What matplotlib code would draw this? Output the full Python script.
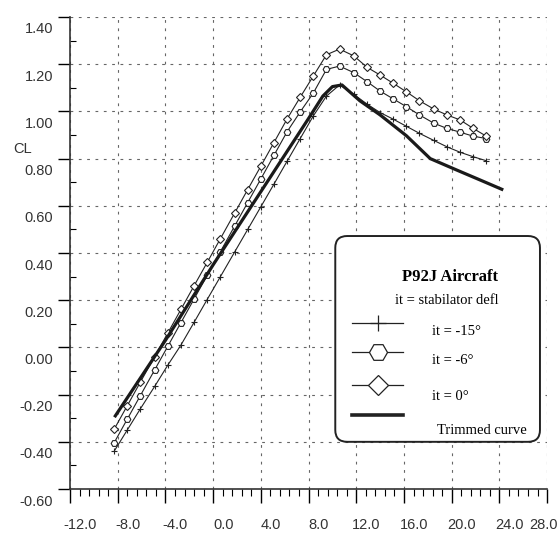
import matplotlib
matplotlib.use("Agg")
import matplotlib.pyplot as plt
from matplotlib.lines import Line2D
from matplotlib.patches import FancyBboxPatch
from matplotlib.transforms import ScaledTranslation

# angle of attack (deg) of the computed points
alpha = [-8.3, -7.2, -6.1, -4.9, -3.8, -2.7, -1.6, -0.5, 0.6, 1.8, 2.9, 4.0, 5.1,
         6.2, 7.3, 8.4, 9.5, 10.6, 11.8, 12.9, 14.0, 15.1, 16.2, 17.3, 18.5,
         19.6, 20.7, 21.8, 22.9]

# lift coefficient for each stabilator deflection
cl_it_m15 = [-0.44, -0.35, -0.26, -0.165, -0.075, 0.01, 0.106, 0.203, 0.299,
             0.404, 0.500, 0.596, 0.692, 0.789, 0.885, 0.981, 1.065, 1.112, 1.072,
             1.031, 0.995, 0.967, 0.937, 0.907, 0.877, 0.850, 0.827, 0.808, 0.791]
cl_it_m6 = [-0.404, -0.304, -0.204, -0.095, 0.005, 0.105, 0.205, 0.305, 0.405,
            0.514, 0.614, 0.714, 0.814, 0.914, 0.998, 1.078, 1.178, 1.192, 1.164,
            1.126, 1.086, 1.053, 1.020, 0.985, 0.950, 0.928, 0.912, 0.895, 0.885]
cl_it_0 = [-0.347, -0.247, -0.147, -0.039, 0.061, 0.161, 0.261, 0.360, 0.460,
           0.569, 0.669, 0.768, 0.868, 0.968, 1.060, 1.150, 1.240, 1.264, 1.235,
           1.187, 1.154, 1.119, 1.083, 1.045, 1.010, 0.985, 0.964, 0.928, 0.895]

# trimmed curve
alpha_trim = [-8.2, -4.0, 0.0, 4.0, 8.0, 9.2, 10.0, 10.8, 12.3, 14.0, 16.2,
              18.2, 20.4, 22.4, 24.2]
cl_trim = [-0.29, 0.03, 0.35, 0.66, 0.97, 1.065, 1.105, 1.112, 1.045, 0.985,
           0.897, 0.80, 0.752, 0.709, 0.67]

x_ticks = [-12, -8, -4, 0, 4, 8, 12, 16, 20, 24, 28]
y_ticks = [-0.6, -0.4, -0.2, 0.0, 0.2, 0.4, 0.6, 0.8, 1.0, 1.2, 1.4]

sans = "Liberation Sans"
serif = "Liberation Serif"

fig = plt.figure(figsize=(5.6, 5.43), dpi=100)
ax = fig.add_axes([0.125, 0.0994, 0.852, 0.8693])

ax.plot(alpha, cl_it_m15, color="#222222", lw=0.8, marker="+", ms=5, mew=0.8)
ax.plot(alpha, cl_it_m6, color="#222222", lw=0.8, marker="H", ms=4.8, mew=0.8,
        mfc="white")
ax.plot(alpha, cl_it_0, color="#222222", lw=0.8, marker="D", ms=4, mew=0.8,
        mfc="white")
ax.plot(alpha_trim, cl_trim, color="#1a1a1a", lw=2.3)

ax.set_xlim(-12, 28)
ax.set_ylim(-0.6, 1.4)
ax.set_xticks(x_ticks)
ax.set_xticklabels([f"{v:.1f}" for v in x_ticks], fontsize=10.5, family=sans,
                   color="#333333")
ax.set_yticks(y_ticks)
ax.set_yticklabels([f"{v:.2f}" for v in y_ticks], fontsize=10.5, family=sans,
                   color="#333333")
ax.set_xticks([v / 10 for v in range(-120, 281, 8)], minor=True)
ax.set_yticks([v / 10 for v in range(-6, 15)], minor=True)

ax.tick_params(axis="x", which="major", direction="out", length=10, width=1, pad=11)
ax.tick_params(axis="x", which="minor", direction="out", length=5, width=0.8)
ax.tick_params(axis="y", which="major", direction="out", length=9, width=1, pad=3)
ax.tick_params(axis="y", which="minor", direction="in", length=4, width=0.8)

# labels in the scan sit a little off their ticks
for lab in ax.get_yticklabels():
    lab.set_transform(lab.get_transform() + ScaledTranslation(0, -0.11, fig.dpi_scale_trans))
xlabs = ax.get_xticklabels()
for lab in xlabs[:-1]:
    lab.set_transform(lab.get_transform() + ScaledTranslation(0.1, 0, fig.dpi_scale_trans))
xlabs[-1].set_transform(xlabs[-1].get_transform() + ScaledTranslation(-0.04, 0, fig.dpi_scale_trans))

for s in ["top", "right"]:
    ax.spines[s].set_visible(False)
for s in ["left", "bottom"]:
    ax.spines[s].set_linewidth(1.2)
    ax.spines[s].set_color("#333333")

ax.grid(True, which="major", color="#666666", linestyle=(0, (2.5, 5)), lw=0.8)

ax.set_ylabel("CL", rotation=0, fontsize=10.5, family=sans, color="#333333")
ax.yaxis.set_label_coords(-0.10, 0.705)

# legend box drawn by hand to follow the original layout
box = FancyBboxPatch((0.556, 0.10), 0.429, 0.436, transform=ax.transAxes,
                     boxstyle="round,pad=0,rounding_size=0.025", fc="white",
                     ec="#222222", lw=1.4, zorder=5)
ax.add_patch(box)
ax.text(0.797, 0.449, "P92J Aircraft", transform=ax.transAxes, ha="center",
        va="center", family=serif, fontweight="bold", fontsize=12, zorder=6)
ax.text(0.79, 0.40, "it = stabilator defl", transform=ax.transAxes, ha="center",
        va="center", family=serif, fontsize=10.5, zorder=6)

rows = [
    (0.352, 0.333, "it = -15°", "+", 12, "none", 0.9),
    (0.290, 0.273, "it = -6°", "H", 13, "white", 0.9),
    (0.220, 0.197, "it = 0°", "D", 10, "white", 0.9),
    (0.157, 0.125, "Trimmed curve", None, 0, "none", 2.6),
]
for y_line, y_text, label, mk, size, face, width in rows:
    ax.add_line(Line2D([0.591, 0.698], [y_line, y_line], transform=ax.transAxes,
                       color="#222222", lw=width, zorder=6))
    if mk:
        ax.add_line(Line2D([0.6445], [y_line], transform=ax.transAxes, color="#222222",
                           linestyle="none", marker=mk, ms=size, mew=0.9, mfc=face,
                           zorder=7))
    x_text = 0.769 if mk is None else 0.759
    ax.text(x_text, y_text, label, transform=ax.transAxes, ha="left", va="center",
            family=serif, fontsize=10.5, zorder=6)

fig.savefig("out.png", dpi=100)
